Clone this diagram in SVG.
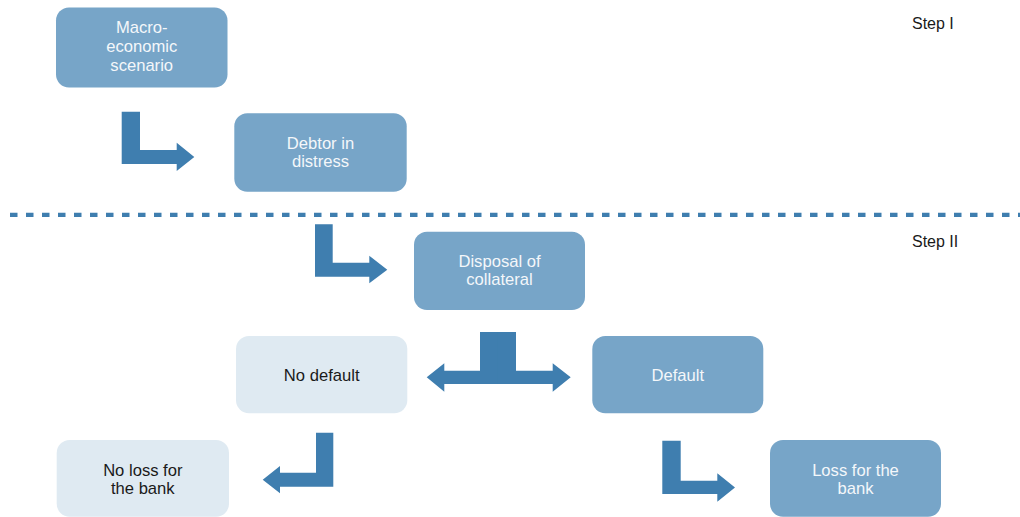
<svg xmlns="http://www.w3.org/2000/svg" width="1020" height="517" viewBox="0 0 1020 517">
<style>
.dark{fill:#77A5C8}
.light{fill:#DFEAF2}
.t{font-family:"Liberation Sans",Arial,sans-serif;font-size:16.6px;text-anchor:middle}
.tw{fill:#F4F7FA}
.tb{fill:#1A1A1A}
.step{font-family:"Liberation Sans",Arial,sans-serif;font-size:16px;fill:#1A1A1A}
.arr{fill:#3F7EAF}
</style>
<rect width="1020" height="517" fill="#FFFFFF"/>
<line x1="10" y1="214.8" x2="1020" y2="214.8" stroke="#3F7EAF" stroke-width="4.2" stroke-dasharray="7.5 8.5"/>
<text class="step" x="912" y="29">Step I</text>
<text class="step" x="912" y="246.7">Step II</text>
<g id="macro"><rect class="dark" x="56" y="7.5" width="171.5" height="80" rx="13"/>
<text class="t tw" x="141.7" y="33.4">Macro-</text><text class="t tw" x="141.7" y="52.3">economic</text><text class="t tw" x="141.7" y="71">scenario</text></g>
<g id="debtor"><rect class="dark" x="234.3" y="113.3" width="172.4" height="78.4" rx="13"/>
<text class="t tw" x="320.5" y="148.8">Debtor in</text><text class="t tw" x="320.5" y="167">distress</text></g>
<g id="disposal"><rect class="dark" x="414" y="231.7" width="171" height="78.3" rx="13"/>
<text class="t tw" x="499.5" y="266.7">Disposal of</text><text class="t tw" x="499.5" y="285">collateral</text></g>
<g id="nodefault"><rect class="light" x="236" y="336" width="171.3" height="77.3" rx="13"/>
<text class="t tb" x="321.7" y="381">No default</text></g>
<g id="default"><rect class="dark" x="592.3" y="336" width="171" height="77.3" rx="13"/>
<text class="t tw" x="677.8" y="381">Default</text></g>
<g id="noloss"><rect class="light" x="56.7" y="440" width="172.3" height="76.7" rx="13"/>
<text class="t tb" x="142.8" y="476.2">No loss for</text><text class="t tb" x="142.8" y="494.4">the bank</text></g>
<g id="loss"><rect class="dark" x="770" y="440" width="171" height="76.7" rx="13"/>
<text class="t tw" x="855.5" y="476.2">Loss for the</text><text class="t tw" x="855.5" y="494.4">bank</text></g>
<g id="connectors" class="arr">
<path d="M121.7,111.7 H140 V150 H176.7 V142.7 L194.3,157 L176.7,171 V164 H121.7 Z"/>
<path d="M315,224.3 H332.7 V262.7 H369.3 V255.7 L387.3,269.7 L369.3,283.3 V276.7 H315 Z"/>
<path d="M498,332 H480 V370.7 H444.3 V363.3 L426.7,377.3 L444.3,391.7 V384 H498 Z"/>
<path d="M497.3,332 H516 V370.7 H552.7 V363.3 L570.7,377.3 L552.7,391.7 V384 H497.3 Z"/>
<path d="M333.3,432.7 H316 V472.7 H280 V466 L262.7,479.7 L280,493.3 V486.7 H333.3 Z"/>
<path d="M662.3,440.7 H680.7 V480.7 H717.3 V473.3 L735,487.4 L717.3,501.7 V494 H662.3 Z"/>
</g>
</svg>
